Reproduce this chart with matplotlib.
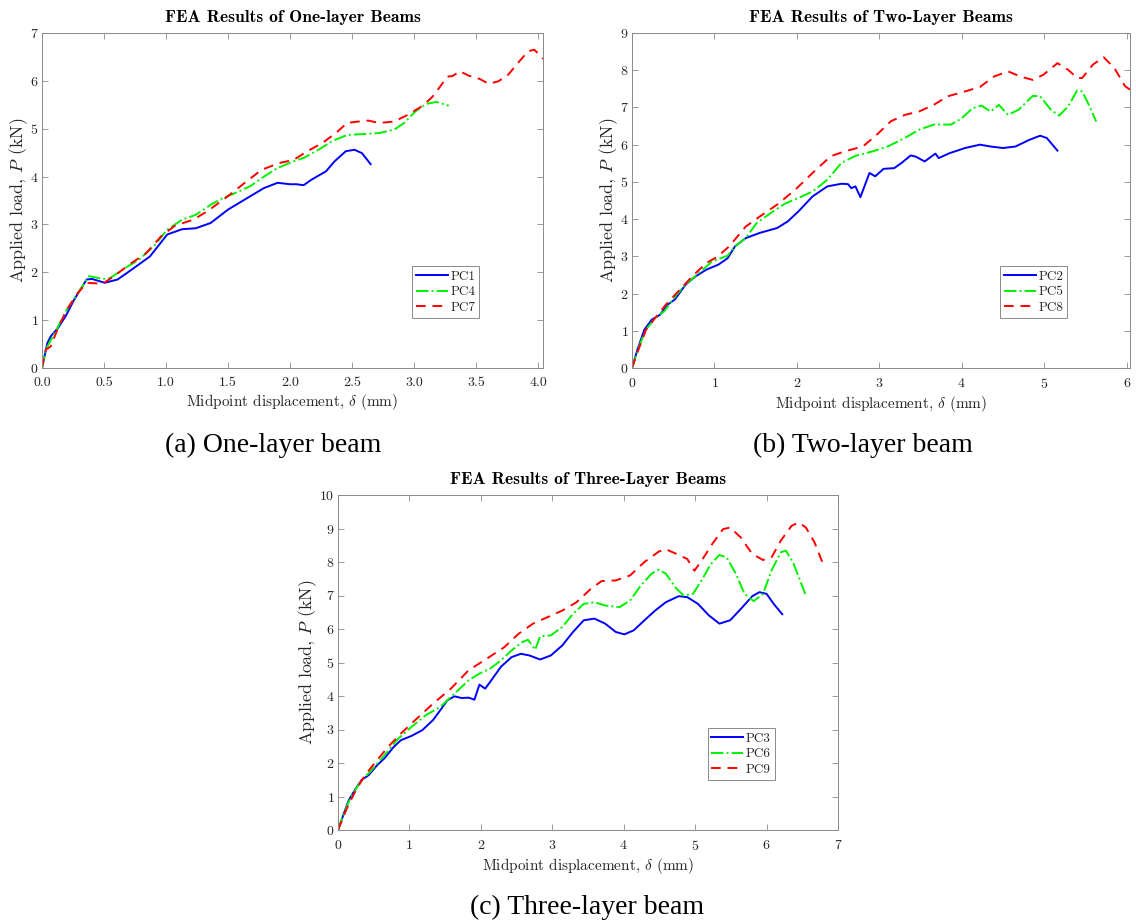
import matplotlib
matplotlib.use("Agg")
import matplotlib.pyplot as plt
from matplotlib.ticker import FormatStrFormatter

plt.rcParams["mathtext.fontset"] = "cm"
plt.rcParams["axes.formatter.use_mathtext"] = True
plt.rcParams["axes.unicode_minus"] = False

# ---- data ----
# (a) one-layer beams
pc1_x = [0, 0.043, 0.07, 0.13, 0.19, 0.26, 0.36, 0.405, 0.506, 0.61, 0.72, 0.87, 1.01, 1.13,
         1.24, 1.36, 1.50, 1.68, 1.79, 1.90, 2.0, 2.05, 2.11, 2.17, 2.29, 2.36, 2.45, 2.52,
         2.58, 2.65]
pc1_y = [0, 0.52, 0.66, 0.84, 1.08, 1.43, 1.85, 1.86, 1.78, 1.85, 2.05, 2.33, 2.79, 2.90,
         2.92, 3.03, 3.31, 3.59, 3.76, 3.87, 3.84, 3.84, 3.82, 3.93, 4.11, 4.32, 4.53, 4.56,
         4.49, 4.26]
pc4_x = [0, 0.03, 0.087, 0.13, 0.2, 0.29, 0.38, 0.49, 0.55, 0.67, 0.78, 0.90, 1.01, 1.13,
         1.24, 1.36, 1.45, 1.56, 1.68, 1.79, 1.90, 2.03, 2.11, 2.23, 2.34, 2.46, 2.60, 2.72,
         2.84, 2.92, 3.01, 3.10, 3.18, 3.28]
pc4_y = [0, 0.38, 0.66, 0.87, 1.22, 1.57, 1.92, 1.86, 1.88, 2.09, 2.26, 2.54, 2.89, 3.10,
         3.20, 3.41, 3.54, 3.66, 3.80, 4.00, 4.18, 4.32, 4.39, 4.56, 4.74, 4.87, 4.89, 4.91,
         4.98, 5.12, 5.36, 5.52, 5.56, 5.48]
pc7_x = [0, 0.03, 0.07, 0.13, 0.20, 0.29, 0.36, 0.49, 0.58, 0.72, 0.84, 0.96, 1.07, 1.22,
         1.33, 1.50, 1.65, 1.77, 1.91, 2.03, 2.14, 2.26, 2.37, 2.46, 2.55, 2.63, 2.72, 2.84,
         2.95, 3.07, 3.15, 3.21, 3.27, 3.31, 3.37, 3.44, 3.53, 3.60, 3.68, 3.76, 3.85, 3.92,
         3.97, 4.01, 4.04]
pc7_y = [0, 0.38, 0.45, 0.84, 1.22, 1.57, 1.78, 1.76, 1.92, 2.19, 2.40, 2.75, 2.97, 3.10,
         3.27, 3.59, 3.90, 4.14, 4.28, 4.35, 4.53, 4.70, 4.91, 5.12, 5.15, 5.17, 5.12, 5.15,
         5.29, 5.48, 5.67, 5.88, 6.09, 6.10, 6.20, 6.11, 6.04, 5.94, 5.99, 6.13, 6.41, 6.62,
         6.65, 6.55, 6.46]

# (b) two-layer beams
pc2_x = [0, 0.065, 0.15, 0.24, 0.34, 0.43, 0.52, 0.65, 0.77, 0.90, 1.05, 1.16, 1.25, 1.38,
         1.55, 1.76, 1.89, 2.02, 2.19, 2.37, 2.54, 2.62, 2.66, 2.71, 2.77, 2.88, 2.95, 3.05,
         3.18, 3.27, 3.38, 3.44, 3.55, 3.68, 3.72, 3.85, 4.04, 4.22, 4.35, 4.50, 4.65, 4.82,
         4.95, 5.03, 5.16]
pc2_y = [0, 0.49, 1.03, 1.30, 1.43, 1.70, 1.84, 2.24, 2.46, 2.64, 2.78, 2.95, 3.27, 3.49,
         3.63, 3.76, 3.94, 4.21, 4.61, 4.88, 4.95, 4.94, 4.83, 4.88, 4.59, 5.24, 5.15, 5.35,
         5.37, 5.51, 5.71, 5.68, 5.55, 5.76, 5.64, 5.77, 5.91, 6.00, 5.95, 5.91, 5.95, 6.13,
         6.24, 6.18, 5.84]
pc5_x = [0, 0.086, 0.17, 0.28, 0.39, 0.54, 0.65, 0.82, 0.97, 1.08, 1.16, 1.25, 1.38, 1.51,
         1.68, 1.85, 2.02, 2.19, 2.37, 2.54, 2.71, 2.92, 3.10, 3.31, 3.48, 3.66, 3.87, 4.0,
         4.13, 4.24, 4.35, 4.45, 4.56, 4.69, 4.86, 4.95, 5.08, 5.18, 5.29, 5.40, 5.46, 5.55,
         5.63]
pc5_y = [0, 0.58, 1.03, 1.34, 1.52, 1.97, 2.24, 2.57, 2.86, 2.95, 3.02, 3.27, 3.49, 3.89,
         4.16, 4.41, 4.57, 4.74, 5.06, 5.51, 5.70, 5.82, 5.95, 6.18, 6.40, 6.54, 6.54, 6.71,
         6.98, 7.05, 6.89, 7.07, 6.80, 6.94, 7.31, 7.30, 6.94, 6.78, 7.03, 7.46, 7.43, 7.03,
         6.62]
pc8_x = [0, 0.086, 0.17, 0.28, 0.41, 0.54, 0.73, 0.90, 1.03, 1.18, 1.38, 1.55, 1.76, 1.98,
         2.19, 2.41, 2.58, 2.80, 2.97, 3.14, 3.31, 3.48, 3.66, 3.83, 4.04, 4.22, 4.39, 4.56,
         4.71, 4.86, 4.99, 5.16, 5.29, 5.40, 5.46, 5.59, 5.72, 5.85, 5.98, 6.04]
pc8_y = [0, 0.54, 1.03, 1.34, 1.70, 2.01, 2.46, 2.82, 2.98, 3.27, 3.80, 4.07, 4.39, 4.79,
         5.24, 5.69, 5.82, 5.95, 6.27, 6.63, 6.80, 6.89, 7.07, 7.30, 7.43, 7.55, 7.83, 7.97,
         7.83, 7.74, 7.88, 8.19, 8.01, 7.79, 7.79, 8.15, 8.35, 8.06, 7.57, 7.48]

# (c) three-layer beams
pc3_x = [0, 0.075, 0.15, 0.25, 0.33, 0.43, 0.55, 0.65, 0.78, 0.88, 1.03, 1.18, 1.33, 1.43,
         1.53, 1.63, 1.73, 1.83, 1.91, 1.98, 2.06, 2.13, 2.28, 2.43, 2.56, 2.68, 2.83, 2.98,
         3.14, 3.29, 3.44, 3.59, 3.74, 3.89, 4.01, 4.14, 4.29, 4.44, 4.59, 4.77, 4.89, 5.04,
         5.19, 5.34, 5.49, 5.64, 5.80, 5.90, 6.00, 6.10, 6.22]
pc3_y = [0, 0.45, 0.89, 1.24, 1.49, 1.64, 1.94, 2.14, 2.48, 2.68, 2.81, 2.98, 3.28, 3.57,
         3.87, 3.99, 3.94, 3.95, 3.89, 4.34, 4.22, 4.42, 4.87, 5.16, 5.26, 5.21, 5.09, 5.21,
         5.51, 5.91, 6.26, 6.31, 6.16, 5.91, 5.84, 5.96, 6.26, 6.55, 6.80, 6.98, 6.95, 6.75,
         6.41, 6.16, 6.26, 6.60, 6.98, 7.10, 7.05, 6.75, 6.44]
pc6_x = [0, 0.075, 0.18, 0.33, 0.45, 0.63, 0.83, 1.03, 1.23, 1.43, 1.63, 1.83, 1.98, 2.13,
         2.28, 2.43, 2.58, 2.66, 2.76, 2.83, 2.98, 3.14, 3.29, 3.44, 3.59, 3.74, 3.94, 4.09,
         4.24, 4.39, 4.49, 4.59, 4.74, 4.84, 4.97, 5.09, 5.22, 5.34, 5.44, 5.57, 5.69, 5.82,
         5.95, 6.07, 6.20, 6.27, 6.37, 6.45, 6.55]
pc6_y = [0, 0.45, 0.99, 1.49, 1.74, 2.18, 2.70, 3.08, 3.43, 3.67, 4.07, 4.47, 4.67, 4.82,
         5.06, 5.36, 5.61, 5.68, 5.38, 5.78, 5.81, 6.06, 6.45, 6.75, 6.80, 6.70, 6.65, 6.85,
         7.30, 7.65, 7.77, 7.65, 7.20, 7.00, 7.05, 7.45, 7.94, 8.21, 8.14, 7.65, 7.05, 6.83,
         7.05, 7.75, 8.29, 8.34, 7.99, 7.55, 7.00]
pc9_x = [0, 0.125, 0.25, 0.38, 0.53, 0.70, 0.88, 1.08, 1.33, 1.58, 1.83, 2.08, 2.33, 2.53,
         2.73, 2.94, 3.14, 3.34, 3.54, 3.69, 3.89, 4.09, 4.29, 4.49, 4.59, 4.74, 4.89, 4.99,
         5.09, 5.24, 5.39, 5.49, 5.64, 5.80, 5.95, 6.07, 6.20, 6.35, 6.45, 6.55, 6.67, 6.80]
pc9_y = [0, 0.65, 1.19, 1.64, 2.04, 2.48, 2.88, 3.28, 3.77, 4.22, 4.77, 5.11, 5.46, 5.86,
         6.16, 6.36, 6.55, 6.80, 7.20, 7.43, 7.45, 7.60, 8.00, 8.31, 8.38, 8.24, 8.09, 7.74,
         8.04, 8.54, 8.98, 9.03, 8.73, 8.24, 8.06, 8.14, 8.64, 9.08, 9.18, 9.03, 8.59, 7.89]

titles = ["FEA Results of One-layer Beams", "FEA Results of Two-Layer Beams",
          "FEA Results of Three-Layer Beams"]
captions = ["(a) One-layer beam", "(b) Two-layer beam", "(c) Three-layer beam"]

panels = [
    ([(pc1_x, pc1_y, "PC1"), (pc4_x, pc4_y, "PC4"), (pc7_x, pc7_y, "PC7")], 4.04, 7, 0.5),
    ([(pc2_x, pc2_y, "PC2"), (pc5_x, pc5_y, "PC5"), (pc8_x, pc8_y, "PC8")], 6.04, 9, 1),
    ([(pc3_x, pc3_y, "PC3"), (pc6_x, pc6_y, "PC6"), (pc9_x, pc9_y, "PC9")], 7, 10, 1),
]

W, H = 1136, 921
# axes boxes in pixels: left, right, top, bottom
boxes = [(42, 543, 33, 368), (632, 1130, 33, 368), (338, 838, 495, 830)]
caption_pos = [(273, 445), (863, 445), (587, 907)]

styles = [dict(color=(0, 0, 1), linestyle="-"),
          dict(color=(0, 0.95, 0), linestyle="-."),
          dict(color=(1, 0, 0), linestyle=(0, (5, 3.5)))]

fig = plt.figure(figsize=(W / 100, H / 100), dpi=100)
edge = "#8a8a8a"
txt = "#262626"

for i, (series, xmax, ymax, xstep) in enumerate(panels):
    l, r, t, b = boxes[i]
    ax = fig.add_axes([l / W, 1 - b / H, (r - l) / W, (b - t) / H])
    for (xs, ys, name), st in zip(series, styles):
        ax.plot(xs, ys, lw=1.4, label=name, **st)
    ax.set_xlim(0, xmax)
    ax.set_ylim(0, ymax)
    n = int(round(xmax / xstep))
    ax.set_xticks([k * xstep for k in range(n + 1)])
    ax.set_yticks(range(ymax + 1))
    if xstep < 1:
        ax.xaxis.set_major_formatter(FormatStrFormatter("%.1f"))
    ax.tick_params(direction="in", top=True, right=True, length=4, width=0.6,
                   color=edge, labelcolor=txt, labelsize=10)
    ax.tick_params(axis="x", pad=6.5)
    ax.tick_params(axis="y", pad=2.5)
    for lab in ax.get_xticklabels() + ax.get_yticklabels():
        lab.set_fontfamily("cmr10")
    for sp in ax.spines.values():
        sp.set_color(edge)
        sp.set_linewidth(0.7)
    ax.set_title(titles[i], fontfamily="cmb10", fontsize=12.6, color="black", pad=8)
    ax.set_xlabel(r"Midpoint displacement, $\delta$ (mm)", fontfamily="cmr10",
                  fontsize=11, color=txt, labelpad=2)
    ax.set_ylabel(r"Applied load, $P$ (kN)", fontfamily="cmr10",
                  fontsize=12.9, color=txt, labelpad=0)
    leg = ax.legend(loc="upper left", bbox_to_anchor=(0.739, 0.303), borderaxespad=0,
                    fancybox=False, framealpha=1, edgecolor=edge,
                    prop={"family": "cmr10", "size": 9.5},
                    handlelength=2.4, handletextpad=0.2, labelspacing=0.25,
                    borderpad=0.3)
    leg.get_frame().set_linewidth(0.7)
    for tx in leg.get_texts():
        tx.set_color(txt)

for (cx, cy), cap in zip(caption_pos, captions):
    fig.text(cx / W, 1 - cy / H, cap, ha="center", va="center",
             fontfamily="Liberation Serif", fontsize=20, color="black")

fig.savefig("out.png", dpi=100)
